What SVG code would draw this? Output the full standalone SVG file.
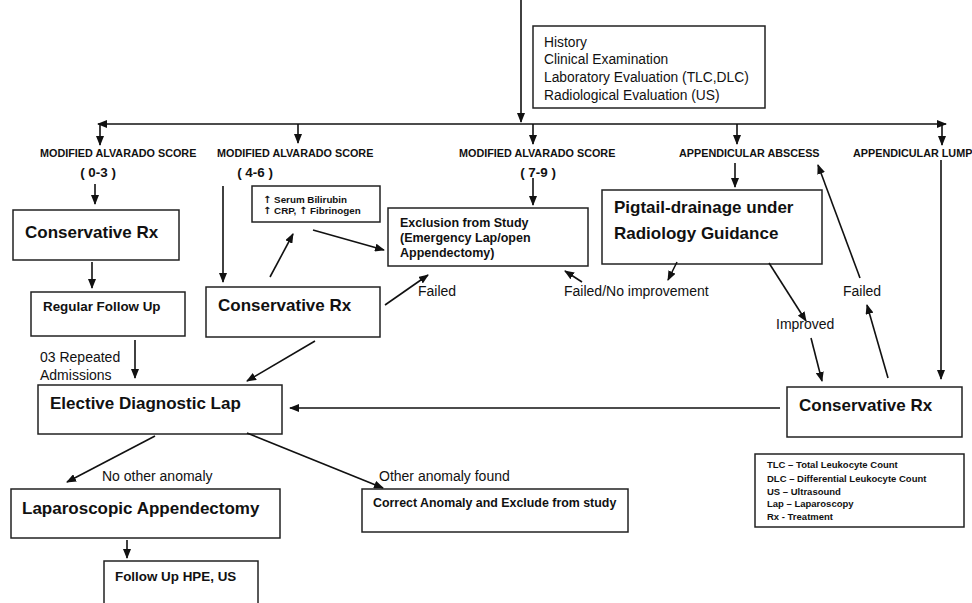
<svg xmlns="http://www.w3.org/2000/svg" width="972" height="603" viewBox="0 0 972 603">
<defs>
<marker id="ah" markerUnits="userSpaceOnUse" markerWidth="10" markerHeight="8" refX="9" refY="4" orient="auto">
<path d="M0,0 L10,4 L0,8 z" fill="#111"/>
</marker>
<style>
.box{fill:#fff;stroke:#222;stroke-width:1.5}
.ln{stroke:#111;stroke-width:1.6;fill:none}
.ar{stroke:#111;stroke-width:1.6;fill:none;marker-end:url(#ah)}
text{font-family:"Liberation Sans",Arial,sans-serif;fill:#111}
.h{font-size:10.8px;font-weight:bold}
.r{font-size:13.4px;font-weight:bold}
.big{font-size:17px;font-weight:bold}
.lab{font-size:14px}
.info{font-size:13.8px}
.leg{font-size:9.5px;font-weight:bold}
.sm{font-size:9.8px;font-weight:bold}
.up{font-family:"DejaVu Sans",sans-serif;font-size:10px}
.ex{font-size:12.5px;font-weight:bold}
</style>
</defs>
<rect width="972" height="603" fill="#fff"/>

<g id="info">
<rect class="box" x="533" y="26" width="232" height="82"/>
<text class="info" x="544" y="47">History</text>
<text class="info" x="544" y="64">Clinical Examination</text>
<text class="info" x="544" y="82">Laboratory Evaluation (TLC,DLC)</text>
<text class="info" x="544" y="100">Radiological Evaluation (US)</text>
</g>

<g id="labels">
<text class="h" x="40" y="157">MODIFIED ALVARADO SCORE</text>
<text class="r" x="98" y="177" text-anchor="middle">( 0-3 )</text>
<text class="h" x="217" y="157">MODIFIED ALVARADO SCORE</text>
<text class="r" x="255" y="177" text-anchor="middle">( 4-6 )</text>
<text class="h" x="459" y="157">MODIFIED ALVARADO SCORE</text>
<text class="r" x="538" y="177" text-anchor="middle">( 7-9 )</text>
<text class="h" x="679" y="157">APPENDICULAR ABSCESS</text>
<text class="h" x="853" y="157">APPENDICULAR LUMP</text>
</g>

<g id="cons1">
<rect class="box" x="13" y="210" width="166" height="50"/>
<text class="big" x="25" y="238">Conservative Rx</text>
</g>
<g id="regular">
<rect class="box" x="31" y="292" width="154" height="44"/>
<text class="r" x="43" y="311">Regular Follow Up</text>
</g>
<g id="serum">
<rect class="box" x="252" y="186" width="128" height="36"/>
<text class="sm" x="263" y="203"><tspan class="up">↑</tspan> Serum Bilirubin</text>
<text class="sm" x="263" y="214"><tspan class="up">↑</tspan> CRP, <tspan class="up">↑</tspan> Fibrinogen</text>
</g>
<g id="cons2">
<rect class="box" x="206" y="287" width="174" height="50"/>
<text class="big" x="218" y="311">Conservative Rx</text>
</g>
<g id="exclusion">
<rect class="box" x="388" y="208" width="200" height="58"/>
<text class="ex" x="400" y="227">Exclusion from Study</text>
<text class="ex" x="400" y="242">(Emergency Lap/open</text>
<text class="ex" x="400" y="257">Appendectomy)</text>
</g>
<g id="pigtail">
<rect class="box" x="602" y="190" width="220" height="74"/>
<text class="big" x="614" y="213">Pigtail-drainage under</text>
<text class="big" x="614" y="239">Radiology Guidance</text>
</g>
<g id="elective">
<rect class="box" x="38" y="385" width="244" height="49"/>
<text class="big" x="50" y="409">Elective Diagnostic Lap</text>
</g>
<g id="cons3">
<rect class="box" x="787" y="387" width="175" height="50"/>
<text class="big" x="799" y="411">Conservative Rx</text>
</g>
<g id="lapapp">
<rect class="box" x="11" y="489" width="269" height="49"/>
<text class="big" x="22" y="514">Laparoscopic Appendectomy</text>
</g>
<g id="correct">
<rect class="box" x="362" y="489" width="266" height="43"/>
<text font-size="12.4px" font-weight="bold" x="373" y="507">Correct Anomaly and Exclude from study</text>
</g>
<g id="followup">
<rect class="box" x="104" y="561" width="154" height="60"/>
<text class="r" x="115" y="581">Follow Up HPE, US</text>
</g>
<g id="legend">
<rect class="box" x="755" y="454" width="209" height="73"/>
<text class="leg" x="767" y="468">TLC – Total Leukocyte Count</text>
<text class="leg" x="767" y="482">DLC – Differential Leukocyte Count</text>
<text class="leg" x="767" y="495">US – Ultrasound</text>
<text class="leg" x="767" y="507">Lap – Laparoscopy</text>
<text class="leg" x="767" y="520">Rx - Treatment</text>
</g>

<g id="connectors">
<path class="ar" d="M521,0 V122"/>
<path class="ar" d="M521,124 H98"/>
<path class="ar" d="M521,124 H946"/>
<path class="ar" d="M100,124 V145"/>
<path class="ar" d="M298,124 V143"/>
<path class="ar" d="M533,124 V144"/>
<path class="ar" d="M737,124 V144"/>
<path class="ar" d="M942,124 V145"/>
<path class="ar" d="M95,184 V204"/>
<path class="ar" d="M92,262 V288"/>
<path class="ar" d="M135,340 V378"/>
<path class="ar" d="M223,186 V282"/>
<path class="ar" d="M270,277 L293,234"/>
<path class="ar" d="M313,230 L384,250"/>
<path class="ar" d="M385,305 L428,275"/>
<path class="ar" d="M533,178 V205"/>
<path class="ar" d="M582,282 L565,271"/>
<path class="ar" d="M735,163 V187"/>
<path class="ar" d="M677,262 L668,280"/>
<path class="ar" d="M769,263 L806,321"/>
<path class="ar" d="M811,338 L822,381"/>
<path class="ar" d="M888,378 L867,305"/>
<path class="ar" d="M860,278 L818,165"/>
<path class="ar" d="M941,160 V379"/>
<path class="ar" d="M780,408 H290"/>
<path class="ar" d="M315,341 L247,381"/>
<path class="ar" d="M155,436 L67,482"/>
<path class="ar" d="M247,433 L383,488"/>
<path class="ar" d="M127,540 V558"/>
</g>

<g id="edge-labels">
<text class="lab" x="40" y="362">03 Repeated</text>
<text class="lab" x="40" y="380">Admissions</text>
<text class="lab" x="418" y="296">Failed</text>
<text class="lab" x="564" y="296">Failed/No improvement</text>
<text class="lab" x="776" y="329">Improved</text>
<text class="lab" x="843" y="296">Failed</text>
<text class="lab" x="102" y="481">No other anomaly</text>
<text class="lab" x="379" y="481">Other anomaly found</text>
</g>
</svg>
